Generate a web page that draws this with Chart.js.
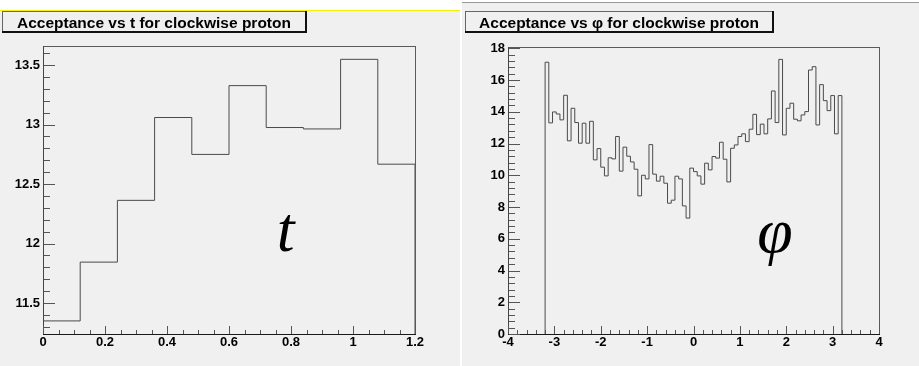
<!DOCTYPE html>
<html><head><meta charset="utf-8">
<script src="https://cdn.jsdelivr.net/npm/chart.js@4.4.1/dist/chart.umd.min.js"></script>
<style>
html,body{margin:0;padding:0;background:#fff;}
#wrap{position:relative;width:919px;height:366px;overflow:hidden;}
canvas{position:absolute;top:0;}
#c1{left:0;} #c2{left:460px;}
</style></head><body>
<div id="wrap"><canvas id="c1" width="460" height="366"></canvas><canvas id="c2" width="459" height="366"></canvas></div>
<script>
// ---------- data ----------
const tBinEdges = [0, 0.12, 0.24, 0.36, 0.48, 0.6, 0.72, 0.84, 0.96, 1.08, 1.2];
const tValues = [11.35, 11.844, 12.363, 13.059, 12.749, 13.327, 12.975, 12.963, 13.548, 12.667];
const tXTicks = [0, 0.2, 0.4, 0.6, 0.8, 1, 1.2];
const tYTicks = [11.5, 12, 12.5, 13, 13.5];
const tXRange = [0, 1.2];
const tYRange = [11.24, 13.66];

const phiRange = [-3.2, 3.2];
const phiValues = [
  17.12, 13.30, 13.99, 13.86, 13.49, 15.04, 12.17, 14.22, 13.32, 12.02,
  13.28, 12.02, 13.40, 10.97, 11.68, 10.51, 9.96, 11.10, 11.03, 12.44,
  10.26, 11.77, 11.20, 10.84, 10.38, 8.70, 10.00, 9.77, 11.93, 10.07,
  9.63, 9.94, 9.50, 8.24, 8.43, 9.94, 9.77, 8.07, 7.30, 10.45,
  10.23, 9.96, 9.44, 10.76, 10.34, 11.18, 11.08, 12.08, 11.01, 9.58,
  11.70, 11.91, 12.44, 12.61, 12.12, 12.90, 13.84, 12.56, 13.22, 12.61,
  13.55, 15.31, 13.32, 17.30, 12.54, 14.22, 14.54, 13.53, 13.43, 13.80,
  14.01, 16.63, 16.84, 13.17, 15.71, 14.70, 14.07, 15.02, 12.61, 15.02
];
const phiXTicks = [-4, -3, -2, -1, 0, 1, 2, 3, 4];
const phiYTicks = [0, 2, 4, 6, 8, 10, 12, 14, 16, 18];
const phiXRange = [-4, 4];
const phiYRange = [0, 18.08];

const titles = ['Acceptance vs t for clockwise proton', 'Acceptance vs \u03C6 for clockwise proton'];
const bigLabels = ['t', '\u03C6'];
const bigLabelPos = [[0.783, 11.94], [1.755, 5.15]];

// ---------- style ----------
const BG = '#f0f0f0';
const SANS = '"Liberation Sans", Arial, Helvetica, sans-serif';
const SERIF = '"Liberation Serif", "Times New Roman", serif';

const phiEdges = Array.from({length: phiValues.length + 1},
  (_, i) => phiRange[0] + i * (phiRange[1] - phiRange[0]) / phiValues.length);

function histPoints(edges, values, base) {
  const pts = [{x: edges[0], y: base}];
  values.forEach((v, i) => pts.push({x: edges[i], y: v}));
  pts.push({x: edges[edges.length - 1], y: base});
  return pts;
}
function fmt(v) { return String(Math.round(v * 1000) / 1000); }

function minorValues(majors, nSub, min, max) {
  const step = (majors[1] - majors[0]) / nSub;
  const out = [];
  for (let v = majors[0] - step; v >= min - 1e-9; v -= step) out.push(v);
  for (let i = 0; i < majors.length; i++) {
    for (let k = 1; k < nSub; k++) {
      const v = majors[i] + k * step;
      if (v <= max + 1e-9) out.push(v);
    }
  }
  return out;
}

function panelPlugin(o) {
  return {
    id: 'panel' + o.id,
    beforeDraw(chart) {
      const ctx = chart.ctx, W = chart.width, H = chart.height;
      ctx.save();
      ctx.fillStyle = '#fff'; ctx.fillRect(0, 0, W, H);
      ctx.fillStyle = BG; ctx.fillRect(o.bgX, o.bgTop, W - o.bgX, H - o.bgTop);
      ctx.fillStyle = o.topLine; ctx.fillRect(o.bgX, o.bgTop - 1, W - o.bgX, 1);
      // title box
      const b = o.box;
      ctx.fillStyle = '#666';
      ctx.fillRect(b[0], b[1], b[2] - b[0], 1);
      ctx.fillRect(b[0], b[1], 1, b[3] - b[1]);
      ctx.fillStyle = '#111';
      ctx.fillRect(b[2] - 1, b[1], 2, b[3] - b[1] + 1);
      ctx.fillRect(b[0], b[3] - 1, b[2] - b[0] + 1, 2);
      ctx.fillStyle = '#000';
      ctx.font = 'bold 15.5px ' + SANS;
      ctx.textAlign = 'center'; ctx.textBaseline = 'alphabetic';
      ctx.fillText(o.title, (b[0] + b[2]) / 2, b[1] + 16.7);
      ctx.restore();
    },
    afterDatasetsDraw(chart) {
      const ctx = chart.ctx, a = chart.chartArea;
      const xs = chart.scales.x, ys = chart.scales.y;
      const L = Math.round(a.left), R = Math.round(a.right), T = Math.round(a.top), B = Math.round(a.bottom);
      ctx.save();
      // frame
      ctx.fillStyle = '#5a5a5a';
      ctx.fillRect(L, T, R - L + 1, 1);
      ctx.fillRect(R, T, 1, B - T + 1);
      ctx.fillStyle = '#444';
      ctx.fillRect(L, T, 1, B - T + 1);
      ctx.fillStyle = '#1a1a1a';
      ctx.fillRect(L, B, R - L + 1, 1);
      // ticks
      ctx.fillStyle = '#555';
      o.yTicks.forEach(v => { const p = Math.round(ys.getPixelForValue(v)); ctx.fillRect(L + 1, p, 11, 1); });
      minorValues(o.yTicks, o.ySub, ys.min, ys.max).forEach(v => {
        const p = Math.round(ys.getPixelForValue(v)); ctx.fillRect(L + 1, p, 6, 1); });
      o.xTicks.forEach(v => { const p = Math.round(xs.getPixelForValue(v)); ctx.fillRect(p, B - 8, 1, 8); });
      minorValues(o.xTicks, o.xSub, xs.min, xs.max).forEach(v => {
        const p = Math.round(xs.getPixelForValue(v)); ctx.fillRect(p, B - 4, 1, 4); });
      // big label
      ctx.fillStyle = '#000';
      ctx.font = 'italic 64px ' + SERIF;
      ctx.textAlign = 'center'; ctx.textBaseline = 'alphabetic';
      ctx.fillText(o.big, xs.getPixelForValue(o.bigPos[0]), ys.getPixelForValue(o.bigPos[1]));
      ctx.restore();
    }
  };
}

function buildChart(canvas, o) {
  const tickFont = {family: SANS, weight: 'bold', size: 13};
  const grid = {display: false, drawTicks: false, tickLength: 0};
  return new Chart(canvas, {
    type: 'line',
    data: { datasets: [{
      data: histPoints(o.edges, o.values, o.base),
      stepped: 'before', borderColor: '#4a4a4a', borderWidth: 1,
      pointRadius: 0, fill: false, tension: 0
    }] },
    options: {
      responsive: false, animation: false, devicePixelRatio: 1, events: [],
      layout: { padding: { left: 0, top: o.top, right: o.right, bottom: 0 } },
      plugins: { legend: {display: false}, title: {display: false}, tooltip: {enabled: false} },
      scales: {
        x: {
          type: 'linear', min: o.xRange[0], max: o.xRange[1],
          grid: grid, border: {display: false},
          afterBuildTicks: s => { s.ticks = o.xTicks.map(v => ({value: v})); },
          afterFit: s => { s.height = o.xHeight; },
          ticks: { font: tickFont, color: '#000', padding: 1, maxRotation: 0, autoSkip: false, callback: v => fmt(v) }
        },
        y: {
          type: 'linear', min: o.yRange[0], max: o.yRange[1],
          grid: grid, border: {display: false},
          afterBuildTicks: s => { s.ticks = o.yTicks.map(v => ({value: v})); },
          afterFit: s => { s.width = o.yWidth; },
          ticks: { font: tickFont, color: '#000', padding: 3, autoSkip: false, callback: v => fmt(v) }
        }
      }
    },
    plugins: [panelPlugin(o)]
  });
}

buildChart(document.getElementById('c1'), {
  id: 1, edges: tBinEdges, values: tValues, base: 0,
  xTicks: tXTicks, yTicks: tYTicks, xRange: tXRange, yRange: tYRange,
  xSub: 4, ySub: 5, top: 46, right: 45, yWidth: 43, xHeight: 32,
  bgX: 0, bgTop: 11, topLine: '#f2f200', box: [2, 11, 306, 32],
  title: titles[0], big: bigLabels[0], bigPos: bigLabelPos[0]
});
buildChart(document.getElementById('c2'), {
  id: 2, edges: phiEdges, values: phiValues, base: 0,
  xTicks: phiXTicks, yTicks: phiYTicks, xRange: phiXRange, yRange: phiYRange,
  xSub: 5, ySub: 5, top: 47, right: 40, yWidth: 48, xHeight: 32,
  bgX: 2, bgTop: 3, topLine: '#9a9a9a', box: [5, 11, 313, 32],
  title: titles[1], big: bigLabels[1], bigPos: bigLabelPos[1]
});
</script>
</body></html>
